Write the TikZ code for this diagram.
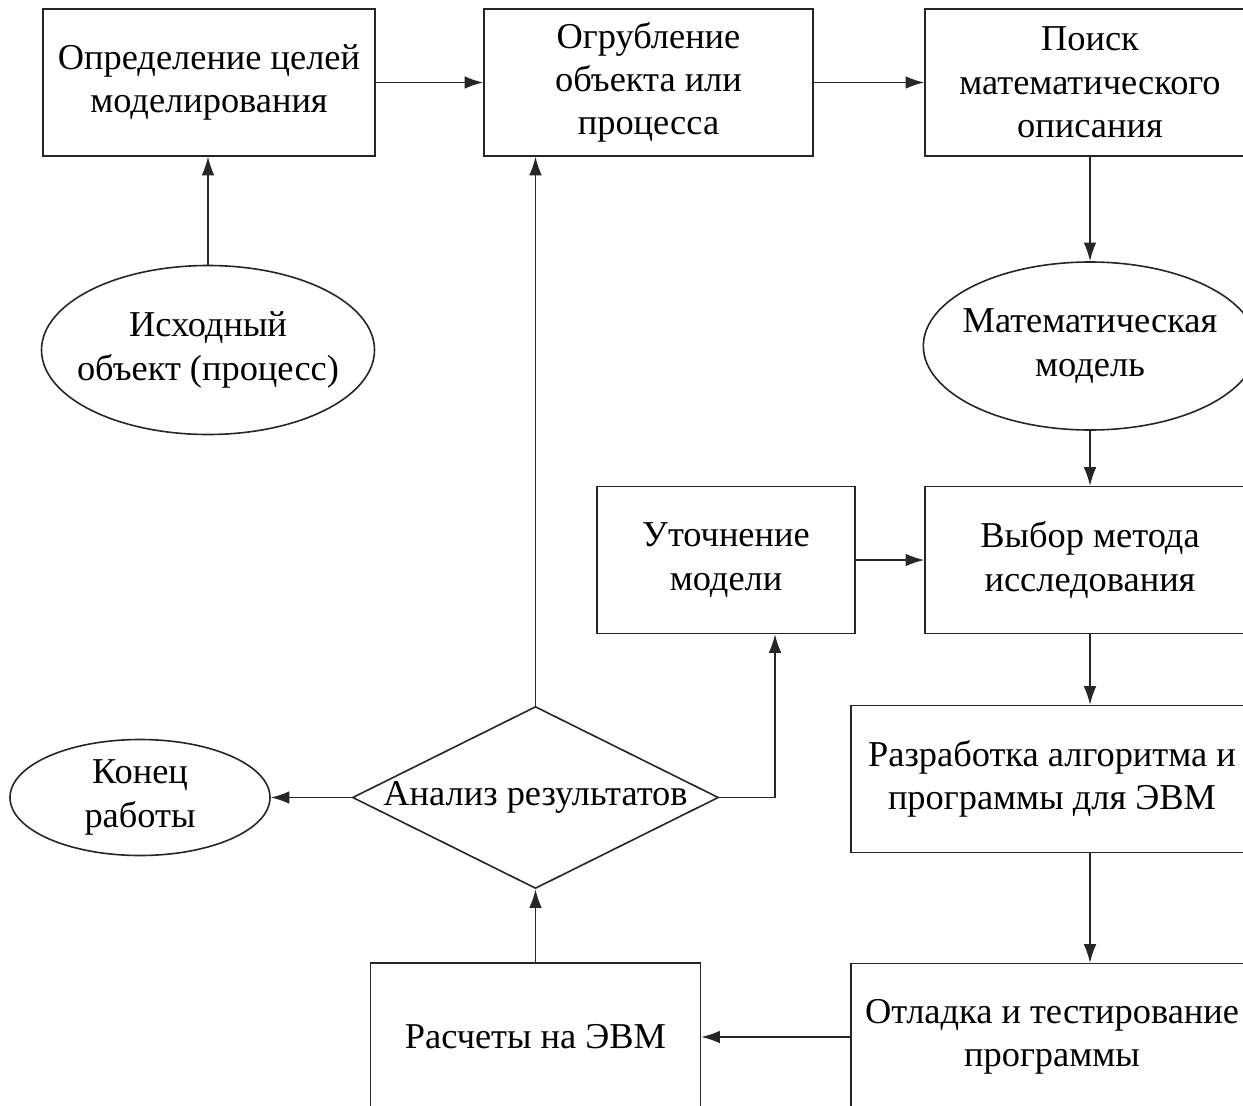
\documentclass[tikz,border=0pt]{standalone}
\usepackage{fontspec}
\setmainfont{Liberation Serif}
\usetikzlibrary{shapes.geometric,arrows.meta,calc}
\tikzset{
  txt/.style={font=\fontsize{27.3}{32.5}\selectfont, align=center},
  base/.style={draw=black!85, line width=1.2pt, inner sep=0pt, align=center, txt},
  boxn/.style={base, rectangle, minimum width=#1, minimum height=110pt},
  elln/.style={base, ellipse},
  arr/.style={draw=black!85, line width=1.2pt, -{Latex[length=14pt,width=9.5pt]}},
}
\begin{document}
\begin{tikzpicture}[x=0.75pt,y=-0.75pt]
\fill[white] (0,0) rectangle (1243,1106);
\useasboundingbox (0,0) rectangle (1243,1106);
\clip (0,0) rectangle (1243,1106);

\node[boxn=249pt] (b1) at (209,82.5) {Определение целей\\моделирования};
\node[boxn=246.75pt] (b2) at (648.5,82.5) {Огрубление\\объекта или\\процесса};
\node[boxn=247.5pt] (b3) at (1090,82.5) {Поиск\\математического\\описания};
\node[elln, minimum width=249.75pt, minimum height=126.75pt,
      label={[txt]center:Исходный\\объект (процесс)}] (e1) at (208,350) {};
\node[elln, minimum width=250pt, minimum height=126pt,
      label={[txt]center:Математическая\\модель}] (e2) at (1090,346) {};
\node[boxn=193.5pt] (ut) at (726,560) {Уточнение\\модели};
\node[boxn=247.5pt] (vm) at (1090,560) {Выбор метода\\исследования};
\node[boxn=301.5pt] (ra) at (1052,779) {Разработка алгоритма и\\программы для ЭВМ};
\node[boxn=301.5pt] (ot) at (1052,1037) {Отладка и тестирование\\программы};
\node[boxn=247.5pt] (rs) at (535.5,1036.5) {Расчеты на ЭВМ};
\node[base, diamond, minimum width=274.5pt, minimum height=136.5pt,
      label={[txt]center:Анализ результатов}] (an) at (535.5,797.5) {};
\node[elln, minimum width=195pt, minimum height=87pt,
      label={[txt]center:Конец\\работы}] (ke) at (140,797.5) {};

\coordinate (k) at (775,797.5);

\draw[arr] (b1.east) -- (b2.west);
\draw[arr] (b2.east) -- (b3.west);
\draw[arr] (e1.north) -- (e1.north |- b1.south);
\draw[arr] (b3.south) -- (e2.north);
\draw[arr] (e2.south) -- (vm.north);
\draw[arr] (ut.east) -- (ut.east -| vm.west);
\draw[arr] (vm.south) -- (vm.south |- ra.north);
\draw[arr] (vm.south |- ra.south) -- (vm.south |- ot.north);
\draw[arr] (ot.west) -- (ot.west -| rs.east);
\draw[arr] (rs.north) -- (an.south);
\draw[arr] (an.north) -- (an.north |- b2.south);
\draw[arr] (an.east) -- (k) -- (k |- ut.south);
\draw[arr] (an.west) -- (ke.east);
\end{tikzpicture}
\end{document}
